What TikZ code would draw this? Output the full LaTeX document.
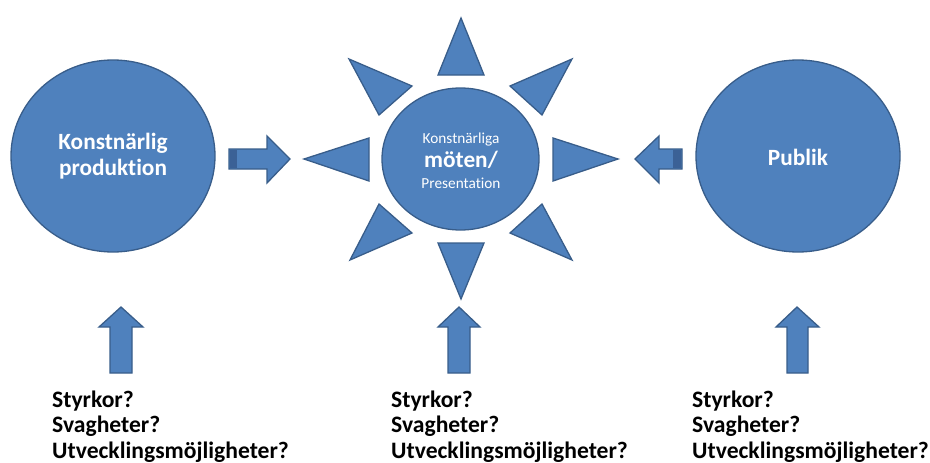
\documentclass[tikz,border=0pt]{standalone}
\usepackage{fontspec}
\setmainfont{Carlito}[Ligatures=NoCommon]
\usetikzlibrary{shapes.geometric}
\definecolor{bfill}{HTML}{4F81BD}
\definecolor{bline}{HTML}{385D8A}
\definecolor{bdark}{HTML}{3B6196}
\tikzset{
  shp/.style={fill=bfill, draw=bline, line width=1.3pt, line join=miter},
  bigc/.style={ellipse, fill=bfill, draw=bline, line width=1.3pt, inner sep=0pt},
  ctxt/.style={anchor=base, inner sep=0pt, text=white, font=\fontsize{23.3}{26}\selectfont\bfseries},
  stxt/.style={anchor=base, inner sep=0pt, text=white, font=\fontsize{15.3}{16}\selectfont},
  qtxt/.style={anchor=base west, inner sep=0pt, font=\fontsize{23.6}{26}\selectfont\bfseries, text=black}
}
\begin{document}
\begin{tikzpicture}[x=1pt,y=-1pt]
\useasboundingbox (0,0) rectangle (930,463);
% circles
\node[bigc, minimum width=204pt, minimum height=192pt] (prod) at (113,156) {};
\node[ctxt] (prod1) at (113,149) {Konstnärlig};
\node[ctxt] (prod2) at (113,175) {produktion};
\node[bigc, minimum width=204pt, minimum height=192pt] (pub) at (798,156) {};
\node[ctxt] (pub1) at (798,165) {Publik};
\node[bigc, minimum width=157pt, minimum height=142pt] (mote) at (460.5,159) {};
\node[stxt] (t1) at (461,143) {Konstnärliga};
\node[ctxt] (t2) at (461,167.5) {möten/};
\node[stxt] (t3) at (461,188) {Presentation};
% sun rays
\draw[shp] (461,18) -- (484,75) -- (438,75) -- cycle;
\draw[shp] (461,299) -- (484,243) -- (438,243) -- cycle;
\draw[shp] (304,159) -- (369,138) -- (369,181) -- cycle;
\draw[shp] (618,159) -- (553,138) -- (553,181) -- cycle;
\draw[shp] (349,59) -- (412,86) -- (379,115) -- cycle;
\draw[shp] (572,59) -- (510,86) -- (542,115) -- cycle;
\draw[shp] (350,260) -- (412,233) -- (379,204) -- cycle;
\draw[shp] (572,260) -- (510,233) -- (542,204) -- cycle;
% horizontal arrows
\draw[shp] (229,149) -- (267,149) -- (267,136) -- (290,159) -- (267,183) -- (267,169) -- (229,169) -- cycle;
\fill[bdark] (229.7,149.7) rectangle (237,168.3);
\draw[shp] (682,149) -- (659,149) -- (659,136) -- (635,159) -- (659,183) -- (659,169) -- (682,169) -- cycle;
\fill[bdark] (673,149.7) rectangle (681.3,168.3);
% up arrows
\draw[shp] (121,307) -- (143,327) -- (132,327) -- (132,373) -- (110,373) -- (110,327) -- (99,327) -- cycle;
\draw[shp] (459,307) -- (480,327) -- (470,327) -- (470,373) -- (448,373) -- (448,327) -- (438,327) -- cycle;
\draw[shp] (797,307) -- (819,327) -- (808,327) -- (808,373) -- (787,373) -- (787,327) -- (776,327) -- cycle;
% questions
\node[qtxt] (q1a) at (52,407) {Styrkor?};
\node[qtxt] (q1b) at (52,432.5) {Svagheter?};
\node[qtxt] (q1c) at (52,458) {Utvecklingsmöjligheter?};
\node[qtxt] (q2a) at (391,407) {Styrkor?};
\node[qtxt] (q2b) at (391,432.5) {Svagheter?};
\node[qtxt] (q2c) at (391,458) {Utvecklingsmöjligheter?};
\node[qtxt] (q3a) at (692,407) {Styrkor?};
\node[qtxt] (q3b) at (692,432.5) {Svagheter?};
\node[qtxt] (q3c) at (692,458) {Utvecklingsmöjligheter?};
\end{tikzpicture}
\end{document}
